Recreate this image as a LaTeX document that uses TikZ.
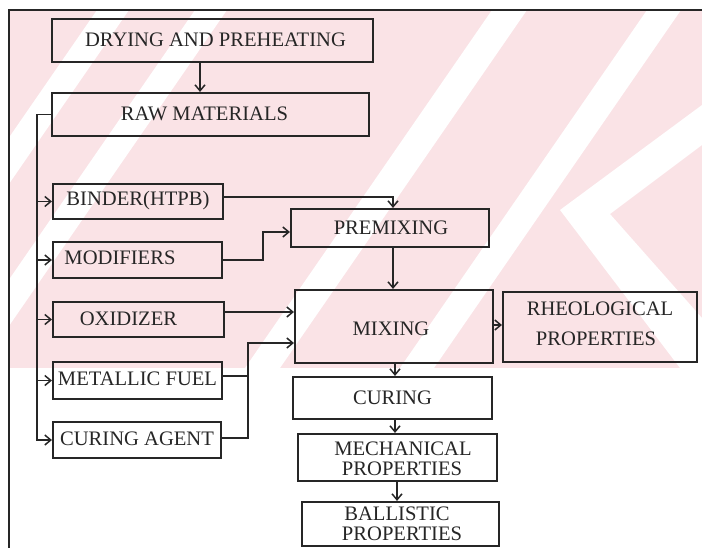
\documentclass[tikz,border=0pt]{standalone}
\usepackage{fontspec}
\setmainfont{Liberation Serif}
\usetikzlibrary{arrows.meta,calc}
\definecolor{wmpink}{RGB}{250,227,230}
\definecolor{ink}{RGB}{38,38,38}
\begin{document}
\begin{tikzpicture}[x=1pt,y=-1pt,
  box/.style={draw=ink,line width=2.1pt,inner sep=0pt},
  lbl/.style={font=\fontsize{20.6}{19}\selectfont,text=ink,align=center,inner sep=0pt},
  arr/.style={draw=ink,line width=1.6pt,-{Straight Barb[length=6pt,width=10pt,line width=1.5pt]}},
  ln/.style={draw=ink,line width=1.6pt}]
\useasboundingbox (0,0) rectangle (702,548);
\fill[white] (0,0) rectangle (702,548);
% watermark
\begin{scope}
\clip (9,10) rectangle (702,368);
\fill[wmpink] (9,10) rectangle (702,368);
\fill[white] (-150,368) -- (-118,368) -- (129,10) -- (97,10) -- cycle;
\fill[white] (-52,368) -- (-20,368) -- (227,10) -- (195,10) -- cycle;
\fill[white] (245,368) -- (280,368) -- (527,10) -- (492,10) -- cycle;
\fill[white] (400,368) -- (434,368) -- (681,10) -- (647,10) -- cycle;
\fill[white] (560,210) -- (702,105) -- (702,145) -- (610,214) -- (702,318) -- (702,368) -- (680,368) -- cycle;
\end{scope}
% frame
\draw[ink,line width=1.6pt] (9,548) -- (9,10) -- (702,10);
% boxes
\node[box,minimum width=321pt,minimum height=43pt] (dry) at (212.5,40.5) {};
\node[box,minimum width=317pt,minimum height=43pt] (raw) at (210.5,114.5) {};
\node[box,minimum width=170pt,minimum height=35pt] (binder) at (138,201.5) {};
\node[box,minimum width=169pt,minimum height=36pt] (modif) at (137.5,260) {};
\node[box,minimum width=171pt,minimum height=35pt] (oxid) at (138.5,319.5) {};
\node[box,minimum width=169pt,minimum height=37pt] (metal) at (137.5,380.5) {};
\node[box,minimum width=168pt,minimum height=36pt] (curag) at (137,440) {};
\node[box,minimum width=198pt,minimum height=38pt] (premix) at (390,228) {};
\node[box,minimum width=198pt,minimum height=73pt] (mixing) at (394,326.5) {};
\node[box,minimum width=194pt,minimum height=70pt] (rheo) at (600,327) {};
\node[box,minimum width=199pt,minimum height=42pt] (curing) at (392.5,398) {};
\node[box,minimum width=199pt,minimum height=47pt] (mech) at (397.5,457.5) {};
\node[box,minimum width=197pt,minimum height=44pt] (ball) at (400.5,524) {};
% texts
\node[lbl] (tdry) at ($(dry)+(3,-0.5)$) {DRYING AND PREHEATING};
\node[lbl] (traw) at ($(raw)+(-6,-1)$) {RAW MATERIALS};
\node[lbl] (tbinder) at ($(binder)+(0,-0.5)$) {BINDER(HTPB)};
\node[lbl] (tmodif) at ($(modif)+(-17.5,-2)$) {MODIFIERS};
\node[lbl] (toxid) at ($(oxid)+(-10,-1)$) {OXIDIZER};
\node[lbl] (tmetal) at ($(metal)+(0,-2)$) {METALLIC FUEL};
\node[lbl] (tcurag) at ($(curag)+(0,-1.5)$) {CURING AGENT};
\node[lbl] (tpremix) at ($(premix)+(1,-0.5)$) {PREMIXING};
\node[lbl] (tmixing) at ($(mixing)+(-3,2.5)$) {MIXING};
\node[lbl] (trheoa) at (600,308.5) {RHEOLOGICAL};
\node[lbl] (trheob) at (596,338.5) {PROPERTIES};
\node[lbl] (tcuring) at ($(curing)+(0,0)$) {CURING};
\node[lbl] (tmecha) at (403,449) {MECHANICAL};
\node[lbl] (tmechb) at (402,469) {PROPERTIES};
\node[lbl] (tballa) at (397,514) {BALLISTIC};
\node[lbl] (tballb) at (402,534) {PROPERTIES};
% helper coordinates
\coordinate (d1) at (200,0);
\coordinate (bx) at (37,0);
\coordinate (b1) at (0,197);
\coordinate (m1) at (263,232);
\coordinate (p1) at (393,0);
\coordinate (o1) at (0,312);
\coordinate (mf) at (0,376);
\coordinate (ca) at (0,438);
\coordinate (j1) at (248,343);
\coordinate (r1) at (0,325);
\coordinate (c1) at (395,0);
\coordinate (c2) at (397,0);
% connectors
\draw[arr] (dry.south -| d1) -- (raw.north -| d1);
\draw[arr] (raw.west) -| (bx |- curag.west) -- (curag.west);
\foreach \n in {binder,modif,oxid,metal} \draw[arr] (bx |- \n.west) -- (\n.west);
\draw[arr] (binder.east |- b1) -| (premix.north -| p1);
\draw[arr] (modif.east) -| (m1) -- (premix.west |- m1);
\draw[arr] (premix.south -| p1) -- (mixing.north -| p1);
\draw[arr] (oxid.east |- o1) -- (mixing.west |- o1);
\draw[ln] (metal.east |- mf) -- (j1 |- mf);
\draw[arr] (curag.east |- ca) -| (j1) -- (mixing.west |- j1);
\draw[arr] (mixing.east |- r1) -- (rheo.west |- r1);
\draw[arr] (mixing.south -| c1) -- (curing.north -| c1);
\draw[arr] (curing.south -| c1) -- (mech.north -| c1);
\draw[arr] (mech.south -| c2) -- (ball.north -| c2);
\end{tikzpicture}
\end{document}
